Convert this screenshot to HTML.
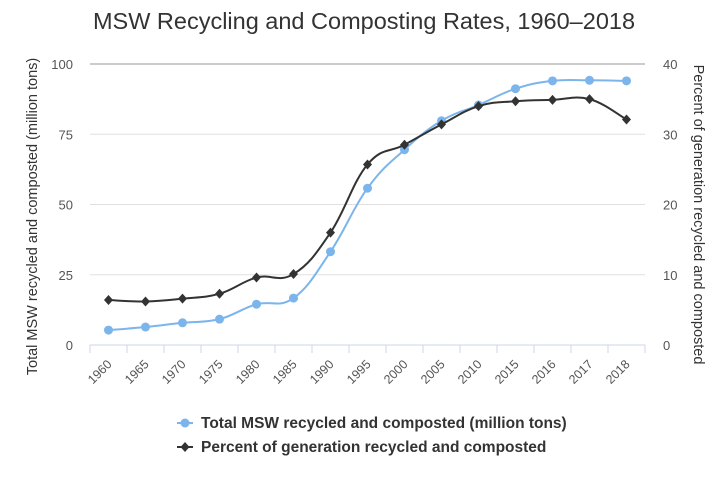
<!DOCTYPE html>
<html><head><meta charset="utf-8"><style>
body{margin:0;background:#fff;font-family:"Liberation Sans",sans-serif}
svg text{font-family:"Liberation Sans",sans-serif}
</style></head><body>
<svg id="c" width="728" height="485"></svg>
<script>
const categories=["1960","1965","1970","1975","1980","1985","1990","1995","2000","2005","2010","2015","2016","2017","2018"];
const tonsValues=[5.3,6.4,7.9,9.2,14.5,16.7,33.2,55.8,69.5,79.8,85.4,91.2,94.0,94.2,94.0];
const percentValues=[6.4,6.2,6.6,7.3,9.6,10.1,16.0,25.7,28.5,31.4,34.0,34.7,34.9,35.0,32.1];
const leftTicks=[0,25,50,75,100];
const rightTicks=[0,10,20,30,40];
const NS="http://www.w3.org/2000/svg";
const svg=document.getElementById('c');
const L=90,R=645,T=64,B=345;
const band=(R-L)/categories.length;
const xPos=i=>L+band*(i+0.5);
const yL=v=>B-(v/100)*(B-T);
const yR=v=>B-(v/40)*(B-T);
function el(tag,attrs,parent){const e=document.createElementNS(NS,tag);for(const k in attrs)e.setAttribute(k,attrs[k]);(parent||svg).appendChild(e);return e;}
let t=el('text',{x:364,y:29,'text-anchor':'middle','font-size':23.5,fill:'#333'});t.textContent="MSW Recycling and Composting Rates, 1960–2018";

leftTicks.forEach((v,i)=>{
  const g=el('line',{x1:L,x2:R,y1:yL(v),y2:yL(v),stroke:v===100?'#ccc':'#e0e0e0','stroke-width':v===100?2:1});
  
  const tl=el('text',{x:73,y:yL(v)+5,'text-anchor':'end','font-size':13,fill:'#555'});tl.textContent=v;
  
});
rightTicks.forEach(v=>{
  const tl=el('text',{x:663,y:yR(v)+5,'text-anchor':'start','font-size':13,fill:'#555'});tl.textContent=v;
  
});
el('line',{x1:L,x2:R,y1:B,y2:B,stroke:'#ccd6eb'});
for(let i=0;i<=categories.length;i++){const tk=el('line',{x1:L+band*i,x2:L+band*i,y1:B,y2:B+8,stroke:'#ccd6eb'});}
categories.forEach((c,i)=>{
  const x=xPos(i),y=B+20;
  const tl=el('text',{x:x+4,y:y,'text-anchor':'end','font-size':12.5,fill:'#555',transform:`rotate(-45 ${x+4} ${y})`});tl.textContent=c;
  
});
let ya=el('text',{x:0,y:0,'text-anchor':'middle','font-size':14.5,fill:'#333',transform:`translate(37 ${(T+B)/2+12}) rotate(-90)`});ya.textContent="Total MSW recycled and composted (million tons)";

let yb=el('text',{x:0,y:0,'text-anchor':'middle','font-size':14.5,fill:'#333',transform:`translate(694 ${(T+B)/2+10}) rotate(90)`});yb.textContent="Percent of generation recycled and composted";

function smooth(pts){let d=`M${pts[0][0]},${pts[0][1]}`;for(let i=0;i<pts.length-1;i++){const p0=pts[i-1]||pts[i],p1=pts[i],p2=pts[i+1],p3=pts[i+2]||p2;const s=0.2;d+=` C${p1[0]+(p2[0]-p0[0])*s},${p1[1]+(p2[1]-p0[1])*s} ${p2[0]-(p3[0]-p1[0])*s},${p2[1]-(p3[1]-p1[1])*s} ${p2[0]},${p2[1]}`;}return d;}
const bp=tonsValues.map((v,i)=>[xPos(i),yL(v)]);
const kp=percentValues.map((v,i)=>[xPos(i),yR(v)]);
let bl=el('path',{d:smooth(bp),fill:'none',stroke:'#7cb5ec','stroke-width':2});

bp.forEach(p=>{const m=el('circle',{cx:p[0],cy:p[1],r:4.5,fill:'#7cb5ec'});});
let kl=el('path',{d:smooth(kp),fill:'none',stroke:'#333','stroke-width':2});

kp.forEach(p=>{const m=el('path',{d:`M${p[0]},${p[1]-5}L${p[0]+4.5},${p[1]}L${p[0]},${p[1]+5}L${p[0]-4.5},${p[1]}Z`,fill:'#333'});});
const lg=el('g',{});
let e1=el('g',{},lg);
el('line',{x1:177,x2:193,y1:423,y2:423,stroke:'#7cb5ec','stroke-width':2},e1);el('circle',{cx:185,cy:423,r:4.5,fill:'#7cb5ec'},e1);
let lt=el('text',{x:201,y:428,'font-size':15.5,'font-weight':'bold',fill:'#333'},e1);lt.textContent="Total MSW recycled and composted (million tons)";
let e2=el('g',{},lg);
el('line',{x1:177,x2:193,y1:447,y2:447,stroke:'#333','stroke-width':2},e2);el('path',{d:'M185,442L189.5,447L185,452L180.5,447Z',fill:'#333'},e2);
let lt2=el('text',{x:201,y:452,'font-size':15.5,'font-weight':'bold',fill:'#333'},e2);lt2.textContent="Percent of generation recycled and composted";
</script>
</body></html>
